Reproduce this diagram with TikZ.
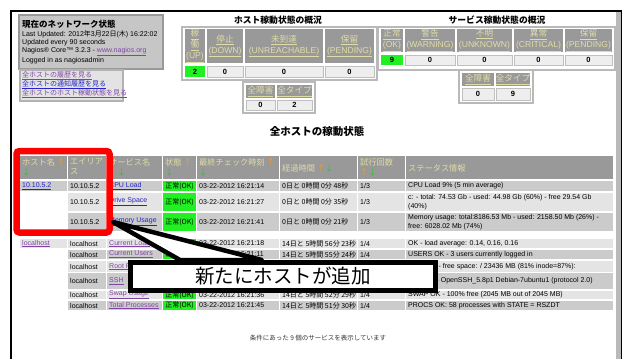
\documentclass[tikz,border=0pt]{standalone}
\usepackage{fontspec}
\setmainfont{Liberation Sans}
\newfontfamily\jp{Noto Sans CJK JP}
\usetikzlibrary{calc}

\definecolor{hdrbg}{HTML}{999999}
\definecolor{hdrtxt}{HTML}{E0DCA6}
\definecolor{rowodd}{HTML}{CBCBCB}
\definecolor{roweven}{HTML}{E4E4E4}
\definecolor{okgreen}{HTML}{22F022}
\definecolor{linkblue}{HTML}{2424C8}
\definecolor{linkvisit}{HTML}{8046A6}
\definecolor{arrup}{HTML}{F0A020}
\definecolor{arrdn}{HTML}{30C030}
\definecolor{boxgray}{HTML}{C6C6C6}
\definecolor{datgray}{HTML}{EEEEEE}

\newcommand{\sz}[1]{\fontsize{#1}{#1}\selectfont}
\newcommand{\upa}{\textcolor{arrup}{↑}}
\newcommand{\dna}{\textcolor{arrdn}{↓}}
\newcommand{\lk}[1]{\underline{#1}}

\tikzset{
  cell/.style={inner sep=0pt, anchor=west, font=\fontsize{7}{9}\selectfont},
  jcell/.style={inner sep=0pt, anchor=west, font=\jp\sz{7.5}},
  jlink/.style={jcell, font=\jp\sz{7}},
  hdr/.style={fill=hdrbg, text=hdrtxt, inner sep=0pt, align=center, font=\fontsize{8.6}{11}\selectfont},
  mhdr/.style={inner sep=0pt, anchor=north west, align=left, text=hdrtxt, font=\jp\fontsize{8.2}{10}\selectfont},
  datcell/.style={fill=datgray, draw=gray!50, inner sep=0pt, font=\bfseries\sz{7.5}},
  okcell/.style={datcell, fill=okgreen, draw=none},
  sumbox/.style={fill=white, draw=gray!55, line width=1.2pt},
  sumtitle/.style={inner sep=0pt, font=\jp\bfseries\sz{8.8}},
  redbox/.style={draw=red, line width=6.5pt, rounded corners=3pt},
  callbox/.style={draw, fill=white, line width=5pt, minimum width=305, minimum height=28, inner sep=0pt, font=\jp\sz{19.5}},
  wedge/.style={draw, fill=white, line width=4.5pt, line join=round}
}

\begin{document}
\begin{tikzpicture}[x=1pt,y=-1pt]
\useasboundingbox (0,0) rectangle (627,359);

% page frame
\draw[line width=2.5pt] (11,359) -- (11,11) -- (622,11);
\fill[gray!55] (616,12) rectangle (620.5,359);
\draw[line width=1pt] (621,11) -- (621,359);

% current network status
\draw[fill=boxgray, draw=gray!80, line width=1.2pt] (19,15) rectangle (163,69);
\node[jcell, font=\jp\bfseries\sz{8.5}] (nettitle) at (22,24) {現在のネットワーク状態};
\node[cell] (lastupd) at (22,34) {Last Updated: 2012{\jp 年}3{\jp 月}22{\jp 日}({\jp 木}) 16:22:02};
\node[cell] (every) at (22,43) {Updated every 90 seconds};
\node[cell] (core) at (22,52) {Nagios® Core™ 3.2.3 - \textcolor{linkvisit}{\lk{www.nagios.org}}};
\node[cell] (login) at (22,61) {Logged in as nagiosadmin};

\draw[fill=gray!22, draw=gray!60, line width=1.2pt] (20,70) rectangle (123,101);
\node[jlink, text=linkvisit] (lnk1) at (22,76) {\lk{全ホストの履歴を見る}};
\node[jlink, text=linkblue] (lnk2) at (22,85) {\lk{全ホストの通知履歴を見る}};
\node[jlink, text=linkvisit] (lnk3) at (22,94) {\lk{全ホストのホスト稼動状態を見る}};

% host status totals
\node[sumtitle] (hosttitle) at (278,20) {ホスト稼動状態の概況};
\draw[sumbox] (182,27) rectangle (377,80);
\node[hdr, minimum width=20, minimum height=34] (hup) at (195,46) {\lk{\jp 稼}\\\lk{\jp 働}\\\lk{(UP)}};
\node[hdr, minimum width=36, minimum height=34] (hdown) at (225,46) {\lk{\jp 停止}\\\lk{(DOWN)}};
\node[hdr, minimum width=78, minimum height=34] (hunreach) at (284,46) {\lk{\jp 未到達}\\\lk{(UNREACHABLE)}};
\node[hdr, minimum width=49, minimum height=34] (hpend) at (349.5,46) {\lk{\jp 保留}\\\lk{(PENDING)}};
\node[okcell, minimum width=20, minimum height=11] (nup) at (195,71.5) {2};
\foreach \x/\w/\n in {225/36/down, 284/78/unreach, 349.5/49/pend}
  \node[datcell, minimum width=\w, minimum height=11] (n\n) at (\x,71.5) {0};

\draw[sumbox] (243,82) rectangle (315,113);
\node[hdr, minimum width=29, minimum height=13, font=\jp\sz{8.6}] (hhprob) at (260.5,91.5) {\lk{全障害}};
\node[hdr, minimum width=35, minimum height=13, font=\jp\sz{8.6}] (hhall) at (294.5,91.5) {\lk{全タイプ}};
\node[datcell, minimum width=29, minimum height=10] (nhprob) at (260.5,105) {0};
\node[datcell, minimum width=35, minimum height=10] (nhall) at (294.5,105) {2};

% service status totals
\node[sumtitle] (svctitle) at (497,20) {サービス稼動状態の概況};
\draw[sumbox] (378,27) rectangle (615,70);
\foreach \x/\w/\j/\e/\n in {392/22/正常/OK/ok, 430/50/警告/WARNING/warn, 484.5/55/不明/UNKNOWN/unknown,
    538.5/49/異常/CRITICAL/crit, 588.5/47/保留/PENDING/spend}
  \node[hdr, minimum width=\w, minimum height=23] (h\n) at (\x,40.5) {\lk{\jp \j}\\\lk{(\e)}};
\node[okcell, minimum width=22, minimum height=10] (nok) at (392,60) {9};
\foreach \x/\w/\n in {430/50/warn, 484.5/55/unknown, 538.5/49/crit, 588.5/47/spend}
  \node[datcell, minimum width=\w, minimum height=10] (n\n) at (\x,60) {0};

\draw[sumbox] (459,70) rectangle (533,103);
\node[hdr, minimum width=32, minimum height=13, font=\jp\sz{8.6}] (hsprob) at (478,79.5) {\lk{全障害}};
\node[hdr, minimum width=34, minimum height=13, font=\jp\sz{8.6}] (hsall) at (513,79.5) {\lk{全タイプ}};
\node[datcell, minimum width=32, minimum height=12] (nsprob) at (478,94) {0};
\node[datcell, minimum width=34, minimum height=12] (nsall) at (513,94) {9};

% service list
\node[sumtitle, font=\jp\bfseries\sz{10.5}] (listtitle) at (317,132) {全ホストの稼動状態};
\foreach \l/\r in {20/67,68/106,107/162,163/196,197/279,280/357,358/405,406/613}
  \fill[hdrbg] (\l,156) rectangle (\r,179);
\node[mhdr] (hhost) at (22,158) {ホスト名 \upa\\\dna};
\node[mhdr] (halias) at (70,158) {エイリア\\ス};
\node[mhdr] (hsvc) at (109,158) {サービス名\\\upa\dna};
\node[mhdr] (hstat) at (165,158) {状態 \upa\\\dna};
\node[mhdr] (hchk) at (199,158) {最終チェック時刻 \upa\\\dna};
\node[mhdr, anchor=west] (hdur) at (282,168) {経過時間 \upa\dna};
\node[mhdr] (hatt) at (360,158) {試行回数\\\upa\dna};
\node[mhdr, anchor=west] (hinfo) at (408,168) {ステータス情報};

\foreach \t/\b/\f/\h in {181/191/rowodd/1, 193/211/roweven/0, 213/231/rowodd/0,
    239/248/roweven/1, 250/259/rowodd/0, 261/272/roweven/0, 273/289/rowodd/0,
    291/299/roweven/0, 301/310/rowodd/0}
{
  \ifnum\h=1 \fill[\f] (20,\t) rectangle (67,\b); \fi
  \foreach \l/\r in {68/106,107/162,197/279,280/357,358/405,406/613}
    \fill[\f] (\l,\t) rectangle (\r,\b);
  \fill[okgreen] (163,\t) rectangle (196,\b);
}

\node[cell, text=linkblue] (host1) at (22,186) {\lk{10.10.5.2}};
\node[cell, text=linkvisit] (host2) at (22,243.5) {\lk{localhost}};
\foreach \y/\a [count=\i] in {186/10.10.5.2, 202/10.10.5.2, 222/10.10.5.2, 243.5/localhost,
    254.5/localhost, 266.5/localhost, 281/localhost, 295/localhost, 305.5/localhost}
  \node[cell] (alias\i) at (70,\y) {\a};
\foreach \y/\s/\col [count=\i] in {186/CPU Load/linkblue, 202/Drive Space/linkblue,
    222/Memory Usage/linkblue, 243.5/Current Load/linkvisit, 254.5/Current Users/linkvisit,
    266.5/Root Partition/linkvisit, 281/SSH/linkvisit, 295/Swap Usage/linkvisit,
    305.5/Total Processes/linkvisit}
  \node[cell, text=\col] (svc\i) at (109,\y) {\lk{\s}};
\foreach \y [count=\i] in {186,202,222,243.5,254.5,295,305.5}
  \node[jcell, anchor=center, font=\jp\sz{7}] (stat\i) at (179.5,\y) {正常(OK)};
\foreach \y/\s [count=\i] in {186/16:21:14, 202/16:21:27, 222/16:21:41, 243.5/16:21:18,
    254.5/16:21:11, 295/16:21:36, 305.5/16:21:45}
  \node[cell] (chk\i) at (199,\y) {03-22-2012 \s};
\foreach \y/\s [count=\i] in {186/0日と 0時間 0分 48秒, 202/0日と 0時間 0分 35秒,
    222/0日と 0時間 0分 21秒, 243.5/14日と 5時間 56分 23秒, 254.5/14日と 5時間 55分 24秒,
    295/14日と 5時間 52分 29秒, 305.5/14日と 5時間 51分 30秒}
  \node[jcell, font=\jp\sz{7}] (dur\i) at (282,\y) {\s};
\foreach \y [count=\i] in {186,202,222}
  \node[cell] (att\i) at (360,\y) {1/3};
\foreach \y [count=\i from 4] in {243.5,254.5,295,305.5}
  \node[cell] (att\i) at (360,\y) {1/4};

\node[cell] (info1) at (408,186) {CPU Load 9\% (5 min average)};
\node[cell, align=left] (info2) at (408,202) {c: - total: 74.53 Gb - used: 44.98 Gb (60\%) - free 29.54 Gb\\(40\%)};
\node[cell, align=left] (info3) at (408,222) {Memory usage: total:8186.53 Mb - used: 2158.50 Mb (26\%) -\\free: 6028.02 Mb (74\%)};
\node[cell] (info4) at (408,243.5) {OK - load average: 0.14, 0.16, 0.16};
\node[cell] (info5) at (408,254.5) {USERS OK - 3 users currently logged in};
\node[cell] (info6) at (408,266.5) {DISK OK - free space: / 23436 MB (81\% inode=87\%):};
\node[cell] (info7) at (408,281) {SSH OK - OpenSSH\_5.8p1 Debian-7ubuntu1 (protocol 2.0)};
\node[cell] (info8) at (408,295) {SWAP OK - 100\% free (2045 MB out of 2045 MB)};
\node[cell] (info9) at (408,305.5) {PROCS OK: 58 processes with STATE = RSZDT};

\node[jcell, anchor=center, text=black!80, font=\jp\sz{6.5}] (footer) at (318,338) {条件にあった 9 個のサービスを表示しています};

% new host highlight and callout
\draw[redbox] (16.5,151) rectangle (109.5,232.5);
\coordinate (tip) at (113,222);
\coordinate (callnw) at (128,260);
\draw[wedge] (tip) -- ($(callnw)+(52,0)$) -- ($(callnw)+(134,0)$) -- cycle;
\node[callbox, anchor=north west] (callout) at (callnw) {新たにホストが追加};
\end{tikzpicture}
\end{document}
